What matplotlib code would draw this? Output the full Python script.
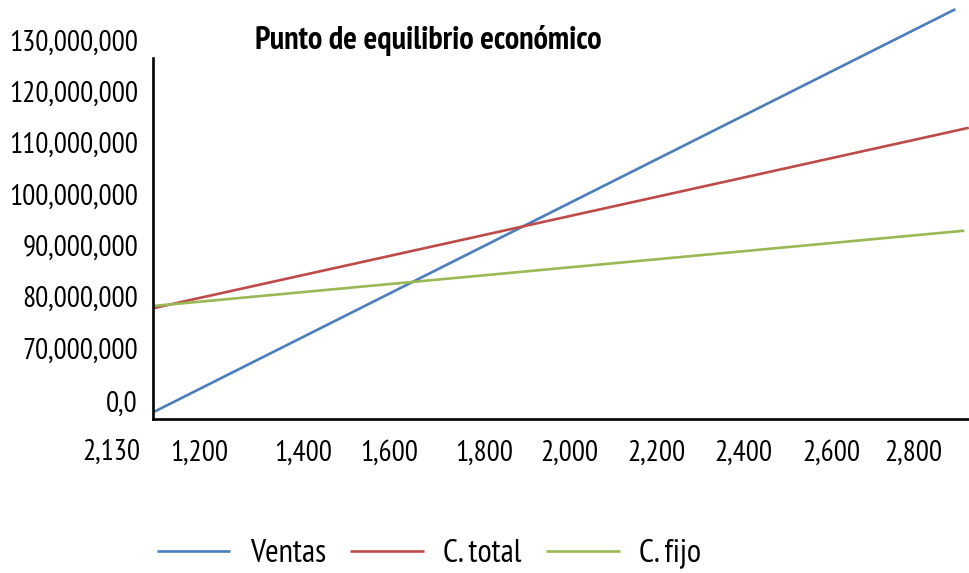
import matplotlib
matplotlib.use("Agg")
import matplotlib.pyplot as plt

plt.rcParams["font.family"] = ["PT Sans Narrow", "Carlito", "DejaVu Sans"]

# Break-even data: units sold vs. pesos
unidades_ventas = [1100, 2895]
ventas = [57.6e6, 136.0e6]

unidades_total = [1100, 2925]
costo_total = [77.8e6, 112.9e6]

unidades_fijo = [1100, 2915]
costo_fijo = [78.2e6, 92.85e6]

x_tick_labels = ["1,200", "1,400", "1,600", "1,800", "2,000", "2,200", "2,400", "2,600", "2,800"]
y_tick_labels = ["130,000,000", "120,000,000", "110,000,000", "100,000,000",
                 "90,000,000", "80,000,000", "70,000,000", "0,0"]
x_origin_label = "2,130"
series_names = ["Ventas", "C. total", "C. fijo"]
title = "Punto de equilibrio económico"

# tick placement on the axes
x_tick_pos = [1200, 1433, 1626, 1839, 2031, 2226, 2421, 2616, 2800]
y_tick_pos = [130e6, 120e6, 110e6, 100e6, 90e6, 80e6, 70e6, 59.53e6]

W, H = 969, 573
fig = plt.figure(figsize=(W / 100, H / 100), dpi=100)
fig.patch.set_facecolor("white")

ax_left = 152.7 / W
ax_bottom = (H - 419.3) / H
ax = fig.add_axes([ax_left, ax_bottom, 1 - ax_left, 1 - ax_bottom])
ax.set_facecolor("none")

ax.plot(unidades_ventas, ventas, color="#4A7EBB", lw=1.9, label=series_names[0], solid_capstyle="butt")
ax.plot(unidades_total, costo_total, color="#BE4B48", lw=1.9, label=series_names[1], solid_capstyle="butt")
ax.plot(unidades_fijo, costo_fijo, color="#98B954", lw=1.9, label=series_names[2], solid_capstyle="butt")

ax.set_xlim(1096.2, 2925.5)
ax.set_ylim(56.11e6, 137.79e6)

for side in ("top", "right"):
    ax.spines[side].set_visible(False)
for side in ("left", "bottom"):
    ax.spines[side].set_linewidth(1.9)
    ax.spines[side].set_color("black")
ax.spines["left"].set_bounds(56.11e6, 126.49e6)

ax.set_xticks(x_tick_pos)
ax.set_xticklabels(x_tick_labels)
ax.set_yticks(y_tick_pos)
ax.set_yticklabels(y_tick_labels)
ax.tick_params(axis="x", length=0, pad=14.5, labelsize=21)
ax.tick_params(axis="y", length=0, pad=10.6, labelsize=21)

fig.text(111 / W, (H - 439) / H, x_origin_label, ha="center", va="top", fontsize=21)

fig.text(428 / W, (H - 41) / H, title, ha="center", va="center",
         fontsize=23.2, fontweight="bold")

leg = ax.legend(loc="center", bbox_to_anchor=(429 / W, (H - 554) / H),
                bbox_transform=fig.transFigure, ncol=3, frameon=False,
                fontsize=23.5, handlelength=2.25, handletextpad=0.6,
                columnspacing=0.75)

fig.savefig("out.png", dpi=100, facecolor="white")
